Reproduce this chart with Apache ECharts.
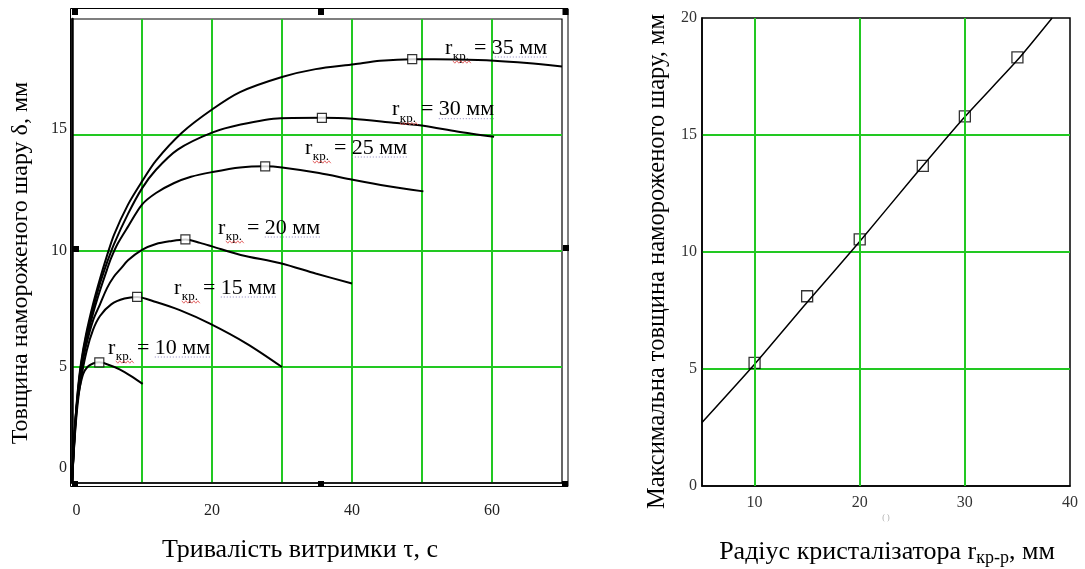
<!DOCTYPE html>
<html><head><meta charset="utf-8">
<script src="https://cdn.jsdelivr.net/npm/echarts@6/dist/echarts.min.js"></script>
<style>html,body{margin:0;padding:0;background:#fff}#c{width:1085px;height:569px}</style>
</head><body><div id="c"></div><script>
// ---------- DATA (left chart: thickness vs holding time) ----------
const c10T = [0, 0.3, 0.7, 1.1, 1.6, 2.2, 3.0, 3.9, 5.0, 6.8, 8.5, 10.1];
const c10D = [0, 2.0, 3.4, 4.1, 4.7, 5.0, 5.15, 5.2, 5.12, 4.9, 4.6, 4.27];
const c15T = [0, 0.4, 0.8, 1.3, 2.1, 3.0, 4.0, 5.6, 7.5, 9.3, 12, 15.4, 19.7, 25, 30];
const c15D = [0, 2.0, 3.4, 4.5, 5.7, 6.6, 7.2, 7.7, 7.95, 8.02, 7.8, 7.45, 6.87, 6.0, 5.0];
const c20T = [0, 0.4, 0.8, 1.3, 2, 3, 4, 5, 6, 7, 8, 10, 12, 14, 16.2, 18.3, 20, 24.1, 29.8, 34.8, 40];
const c20D = [0, 2.1, 3.6, 4.8, 5.9, 7.0, 7.7, 8.4, 8.9, 9.25, 9.6, 10.05, 10.3, 10.42, 10.5, 10.35, 10.2, 9.83, 9.47, 9.03, 8.6];
const c25T = [0, 0.4, 0.8, 1.3, 2, 3, 4, 5, 5.6, 6.5, 8, 10, 12, 14.6, 17, 20, 24, 27.6, 30, 35.3, 40.1, 45, 50.2];
const c25D = [0, 2.2, 3.7, 5.0, 6.1, 7.3, 8.3, 9.2, 9.7, 10.3, 11.05, 12.0, 12.5, 12.93, 13.2, 13.4, 13.6, 13.65, 13.6, 13.36, 13.07, 12.8, 12.57];
const c30T = [0, 0.4, 0.8, 1.3, 2, 3, 4, 5, 6, 8, 10, 12, 15.1, 20, 24.1, 29.8, 35.7, 40.1, 45.9, 50.2, 55, 60.3];
const c30D = [0, 2.3, 3.8, 5.1, 6.3, 7.5, 8.6, 9.5, 10.3, 11.6, 12.7, 13.5, 14.37, 15.1, 15.45, 15.72, 15.74, 15.7, 15.53, 15.4, 15.15, 14.92];
const c35T = [0, 0.4, 0.8, 1.3, 2, 3, 4, 5, 6, 8, 10, 12, 15.7, 20, 24, 30, 34.8, 40.3, 44, 48.6, 55, 60.3, 65, 70];
const c35D = [0, 2.3, 3.9, 5.2, 6.4, 7.7, 8.8, 9.8, 10.7, 12.0, 13.0, 13.9, 15.1, 16.1, 16.85, 17.5, 17.84, 18.05, 18.2, 18.27, 18.25, 18.2, 18.1, 17.95];
const peakT = [3.9, 9.3, 16.2, 27.6, 35.7, 48.6];
const peakD = [5.2, 8.02, 10.5, 13.65, 15.74, 18.27];
const curveNames = ['10', '15', '20', '25', '30', '35'];
const leftXTicks = [0, 20, 40, 60];
const leftYTicks = [0, 5, 10, 15];

// ---------- DATA (right chart: max thickness vs crystallizer radius) ----------
const fitR = [5, 10, 15, 20, 25, 30, 35, 38.3];
const fitD = [2.71, 5.2, 7.85, 10.45, 13.15, 15.78, 18.2, 20.0];
const ptR = [10, 15, 20, 26, 30, 35];
const ptD = [5.26, 8.11, 10.54, 13.68, 15.8, 18.32];
const rightXTicks = [10, 20, 30, 40];
const rightYTicks = [0, 5, 10, 15, 20];
const rightXGrid = [10, 20, 30];

// ---------- TEXT ----------
const leftYTitle = 'Товщина намороженого шару δ, мм';
const leftXTitle = 'Тривалість витримки τ, с';
const rightYTitle = 'Максимальна товщина намороженого шару, мм';
const rightXTitleMain = 'Радіус кристалізатора r';
const rightXTitleSub = 'кр-р';
const rightXTitleEnd = ', мм';

const SERIF = '"Liberation Serif", "Times New Roman", "DejaVu Serif", serif';
const GREEN = '#22c822';

const pairs = (a, b) => a.map((x, i) => [x, b[i]]);
const curvesT = [c10T, c15T, c20T, c25T, c30T, c35T];
const curvesD = [c10D, c15D, c20D, c25D, c30D, c35D];

const ctx = document.createElement('canvas').getContext('2d');
function tw(s, size) { ctx.font = size + 'px "Liberation Serif"'; return ctx.measureText(s).width; }

// curve label anchors (left of "r", baseline) in pixels
const labelPos = [[108, 355], [174, 295], [218, 235], [305, 155], [392, 116.7], [445, 55]];
const graphics = [];
labelPos.forEach((p, i) => {
  const L = p[0], B = p[1], S = 22, s = 13;
  const subX = L + tw('r', S) + 0.5;
  const eqX = subX + tw('кр.', s) + 5;
  const val = '= ' + curveNames[i] + ' мм';
  graphics.push({type: 'text', x: L, y: B - 0.33 * S, z: 100,
    style: {text: 'r', font: S + 'px ' + SERIF, fill: '#000', align: 'left', verticalAlign: 'middle'}});
  graphics.push({type: 'text', x: subX, y: B + 1.5, z: 100,
    style: {text: 'кр.', font: s + 'px ' + SERIF, fill: '#000', align: 'left', verticalAlign: 'middle'}});
  graphics.push({type: 'text', x: eqX, y: B - 0.33 * S, z: 100,
    style: {text: val, font: S + 'px ' + SERIF, fill: '#000', align: 'left', verticalAlign: 'middle'}});
  const pts = [];
  const w = tw('кр.', s);
  for (let k = 0; k <= Math.ceil(w / 2); k++) pts.push([subX + k * 2, B + 7 + (k % 2 ? 1.2 : -1.2)]);
  graphics.push({type: 'polyline', z: 100, shape: {points: pts}, style: {stroke: '#d44', lineWidth: 0.8, fill: null}});
  const ux0 = eqX + tw('= ', S), ux1 = eqX + tw(val, S);
  graphics.push({type: 'line', z: 100, shape: {x1: ux0, y1: B + 2, x2: ux1, y2: B + 2},
    style: {stroke: '#8a80c0', lineWidth: 1, lineDash: [1, 2]}});
});

// selection frame + handles around left plot
graphics.push({type: 'rect', z: 90, shape: {x: 70.5, y: 8.5, width: 497.5, height: 478}, style: {stroke: '#000', lineWidth: 1, fill: null}});
[[75, 12], [321, 12], [565.5, 12], [566, 248], [565, 484], [321, 484], [75, 484], [76, 249]].forEach(h => {
  graphics.push({type: 'rect', z: 95, shape: {x: h[0] - 3, y: h[1] - 3, width: 6, height: 6}, style: {fill: '#000'}});
});

// axis titles
graphics.push({type: 'text', x: 21, y: 263, rotation: Math.PI / 2, z: 100,
  style: {text: leftYTitle, font: '24px ' + SERIF, fill: '#000', align: 'center', verticalAlign: 'middle'}});
graphics.push({type: 'text', x: 300, y: 550, z: 100,
  style: {text: leftXTitle, font: '26px ' + SERIF, fill: '#000', align: 'center', verticalAlign: 'middle'}});
graphics.push({type: 'text', x: 658, y: 261.5, rotation: Math.PI / 2, z: 100,
  style: {text: rightYTitle, font: '24.5px ' + SERIF, fill: '#000', align: 'center', verticalAlign: 'middle'}});
graphics.push({type: 'text', x: 887, y: 552, z: 100,
  style: {text: '{n|' + rightXTitleMain + '}{s|' + rightXTitleSub + '}{n|' + rightXTitleEnd + '}',
    align: 'center', verticalAlign: 'middle',
    rich: {n: {fontFamily: SERIF, fontSize: 26, lineHeight: 30, fill: '#000', color: '#000'},
           s: {fontFamily: SERIF, fontSize: 18, lineHeight: 22, verticalAlign: 'bottom', fill: '#000', color: '#000'}}}});
graphics.push({type: 'text', x: 886, y: 518, z: 100,
  style: {text: '( )', font: '8px ' + SERIF, fill: '#aaa', align: 'center', verticalAlign: 'middle'}});

const lineSeries = curvesT.map((t, i) => ({
  type: 'line', name: curveNames[i] + ' мм', xAxisIndex: 0, yAxisIndex: 0,
  data: pairs(t, curvesD[i]), showSymbol: false, symbol: 'none', smooth: 0.3,
  lineStyle: {color: '#000', width: 2}, z: 3, silent: true
}));

const gridLine = {color: GREEN, width: 2, type: 'solid'};

const option = {
  animation: false,
  backgroundColor: '#fff',
  grid: [
    {left: 72, top: 19, width: 490, height: 464, show: true, borderColor: '#000', borderWidth: 1.2, backgroundColor: 'transparent'},
    {left: 702, top: 18, width: 368, height: 468, show: true, borderColor: '#000', borderWidth: 1.5, backgroundColor: 'transparent'}
  ],
  xAxis: [
    {gridIndex: 0, type: 'value', min: 0, max: 70, interval: 10,
     axisLine: {show: true, onZero: false, lineStyle: {color: '#000', width: 1.5}}, axisTick: {show: false},
     splitLine: {show: true, showMinLine: false, showMaxLine: false, lineStyle: gridLine},
     axisLabel: {margin: 20, fontSize: 16, fontFamily: SERIF, color: '#222',
       formatter: v => leftXTicks.includes(v) ? (v === 0 ? '{z|0}' : String(v)) : '',
       rich: {z: {fontSize: 16, fontFamily: SERIF, color: '#222', padding: [0, 0, 0, 9]}}}},
    {gridIndex: 1, type: 'value', min: 5, max: 40, interval: 5,
     axisLine: {show: true, onZero: false, lineStyle: {color: '#000', width: 1.5}}, axisTick: {show: false},
     splitLine: {show: false},
     axisLabel: {margin: 9, fontSize: 16, fontFamily: SERIF, color: '#333',
       formatter: v => rightXTicks.includes(v) ? String(v) : ''}}
  ],
  yAxis: [
    {gridIndex: 0, type: 'value', min: 0, max: 20, interval: 5,
     axisLine: {show: true, onZero: false, lineStyle: {color: '#000', width: 2.5}}, axisTick: {show: false},
     splitLine: {show: true, showMinLine: false, showMaxLine: false, lineStyle: gridLine},
     axisLabel: {margin: 5, fontSize: 16, fontFamily: SERIF, color: '#222',
       formatter: v => !leftYTicks.includes(v) ? '' : (v === 0 ? '{z|0}' : (v === 15 ? '{f|15}' : String(v))),
       rich: {z: {fontSize: 16, fontFamily: SERIF, color: '#222', padding: [0, 0, 30, 0]},
              f: {fontSize: 16, fontFamily: SERIF, color: '#222', padding: [0, 0, 12, 0]}}}},
    {gridIndex: 1, type: 'value', min: 0, max: 20, interval: 5,
     axisLine: {show: true, onZero: false, lineStyle: {color: '#000', width: 1.5}}, axisTick: {show: false},
     splitLine: {show: true, showMinLine: false, showMaxLine: false, lineStyle: gridLine},
     axisLabel: {margin: 5, fontSize: 16, fontFamily: SERIF, color: '#333',
       formatter: v => rightYTicks.includes(v) ? String(v) : ''}}
  ],
  series: lineSeries.concat([
    {type: 'scatter', name: 'peaks', xAxisIndex: 0, yAxisIndex: 0, data: pairs(peakT, peakD),
     symbol: 'rect', symbolSize: 9, itemStyle: {color: '#fff', borderColor: '#000', borderWidth: 1.2}, z: 4, silent: true},
    {type: 'scatter', name: 'grid', xAxisIndex: 1, yAxisIndex: 1, data: [], z: 1, silent: true,
     markLine: {silent: true, symbol: ['none', 'none'], label: {show: false}, animation: false,
       lineStyle: gridLine, emphasis: {disabled: true},
       data: rightXGrid.map(v => ({xAxis: v}))}},
    {type: 'line', name: 'fit', xAxisIndex: 1, yAxisIndex: 1, data: pairs(fitR, fitD), showSymbol: false, symbol: 'none',
     smooth: 0.2, lineStyle: {color: '#000', width: 1.5}, z: 3, silent: true},
    {type: 'scatter', name: 'max', xAxisIndex: 1, yAxisIndex: 1, data: pairs(ptR, ptD),
     symbol: 'rect', symbolSize: 11, itemStyle: {color: 'rgba(255,255,255,0)', borderColor: '#000', borderWidth: 1.3}, z: 4, silent: true}
  ]),
  graphic: graphics
};
const chart = echarts.init(document.getElementById('c'), null, {renderer: 'canvas'});
chart.setOption(option);
</script></body></html>
